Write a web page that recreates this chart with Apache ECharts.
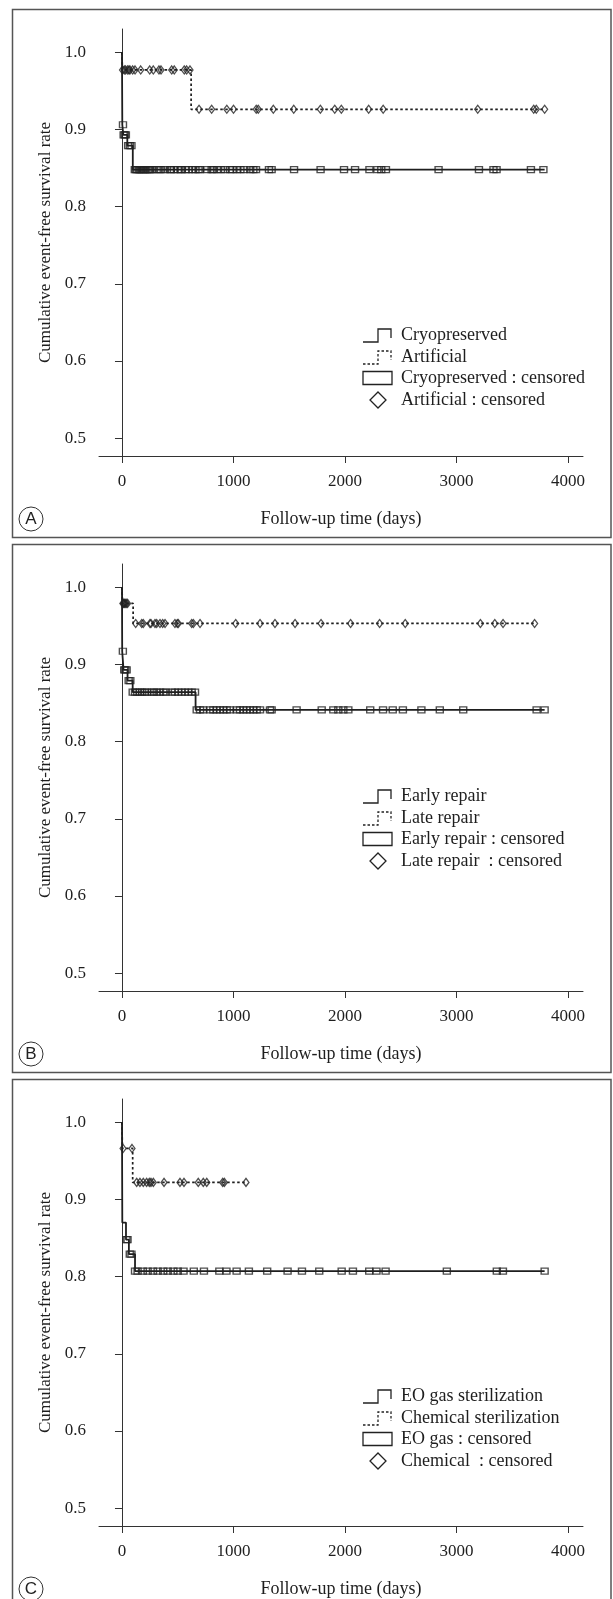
<!DOCTYPE html>
<html>
<head>
<meta charset="utf-8">
<script src="https://cdn.jsdelivr.net/npm/echarts@6/dist/echarts.min.js"></script>
<style>
  html, body { margin: 0; padding: 0; background: #fff; }
  #chart { width: 613px; height: 1599px; }
</style>
</head>
<body>
<div id="chart"></div>
<script>
// ---- data (days, survival) ----
var xTicks = [0, 1000, 2000, 3000, 4000]
var yTicks = [0.5, 0.6, 0.7, 0.8, 0.9, 1.0]

// Panel A
var aCryoSteps = [[0, 1.0], [3, 0.906], [12, 0.893], [48, 0.879], [97, 0.848], [3790, 0.848]]
var aArtiSteps = [[0, 1.0], [4, 0.977], [620, 0.926], [3790, 0.926]]
var aCryoCensored = [9, 15, 25, 35, 55, 70, 85, 115, 125, 135, 150, 160, 170, 185, 195, 205, 220, 235, 245, 256, 273,
  311, 336, 350, 386, 430, 438, 466, 501, 526, 535, 571, 599, 631, 659, 687, 700, 764, 804, 817, 852, 887, 924,
  969, 992, 1029, 1062, 1097, 1150, 1178, 1202, 1318, 1342, 1543, 1781, 1991, 2090, 2219, 2290, 2325, 2367,
  2839, 3201, 3331, 3359, 3667, 3779]
var aArtiCensored = [5, 21, 33, 51, 63, 72, 96, 117, 168, 249, 281, 332, 350, 446, 469, 559, 580, 610, 691, 804,
  940, 1000, 1204, 1222, 1357, 1540, 1779, 1908, 1967, 2212, 2342, 3190, 3692, 3715, 3790]

// Panel B
var bEarlySteps = [[0, 1.0], [2, 0.917], [14, 0.893], [50, 0.879], [96, 0.864], [660, 0.841], [3790, 0.841]]
var bLateSteps = [[0, 1.0], [5, 0.979], [100, 0.953], [3700, 0.953]]
var bEarlyCensored = [8, 20, 30, 42, 60, 75, 96, 117, 137, 161, 182, 206, 227, 266, 287, 311, 341, 371, 395, 446,
  475, 505, 535, 565, 595, 625, 655, 670, 700, 729, 789, 819, 849, 879, 909, 939, 969, 1029, 1058, 1088, 1118,
  1148, 1178, 1208, 1238, 1327, 1342, 1566, 1791, 1895, 1940, 1985, 2030, 2226, 2341, 2428, 2519, 2685, 2850,
  3060, 3718, 3790]
var bLateCensored = [8, 15, 22, 30, 40, 50, 123, 177, 191, 251, 260, 296, 311, 341, 365, 386, 475, 496, 505, 625,
  640, 700, 1020, 1238, 1372, 1552, 1785, 2050, 2310, 2540, 3214, 3343, 3417, 3700]

// Panel C
var cEoSteps = [[0, 1.0], [3, 0.87], [36, 0.848], [62, 0.829], [117, 0.807], [3790, 0.807]]
var cChemSteps = [[0, 1.0], [4, 0.966], [96, 0.922], [1112, 0.922]]
var cEoCensored = [40, 50, 70, 85, 117, 140, 187, 230, 278, 320, 370, 410, 461, 500, 552, 644, 735, 873, 937,
  1028, 1138, 1302, 1485, 1614, 1769, 1970, 2071, 2217, 2282, 2364, 2913, 3361, 3416, 3790]
var cChemCensored = [10, 90, 132, 161, 191, 221, 245, 260, 281, 377, 520, 556, 684, 729, 760, 903, 918, 1112]

// ---- layout ----
var panels = [
  { top: 9, letter: 'A', legendTop: 326,
    names: ['Cryopreserved', 'Artificial', 'Cryopreserved : censored', 'Artificial : censored'],
    solid: aCryoSteps, dashed: aArtiSteps, solidCens: aCryoCensored, dashedCens: aArtiCensored },
  { top: 544, letter: 'B', legendTop: 252,
    names: ['Early repair', 'Late repair', 'Early repair : censored', 'Late repair  : censored'],
    solid: bEarlySteps, dashed: bLateSteps, solidCens: bEarlyCensored, dashedCens: bLateCensored },
  { top: 1079, letter: 'C', legendTop: 317,
    names: ['EO gas sterilization', 'Chemical sterilization', 'EO gas : censored', 'Chemical  : censored'],
    solid: cEoSteps, dashed: cChemSteps, solidCens: cEoCensored, dashedCens: cChemCensored }
]

var ink = '#1e1e1e'
var serif = '"Liberation Serif", "DejaVu Serif", serif'

function survAt(steps, t) {
  var v = steps[0][1]
  for (var i = 0; i < steps.length; i++) {
    if (steps[i][0] <= t) v = steps[i][1]
  }
  return v
}

var chartDom = document.getElementById('chart')
var myChart = echarts.init(chartDom, null, { renderer: 'canvas' })

var grids = [], xAxes = [], yAxes = [], series = [], graphics = []

panels.forEach(function (p, i) {
  var gTop = p.top + 20
  grids.push({ left: 99, right: 30, top: gTop, height: 427 })
  xAxes.push({
    type: 'value', gridIndex: i, min: -206, max: 4134,
    name: 'Follow-up time (days)', nameLocation: 'middle', nameGap: 54,
    nameTextStyle: { fontFamily: serif, fontSize: 18, color: ink },
    axisLine: { lineStyle: { color: '#333', width: 1 } },
    axisTick: { length: 7, customValues: xTicks, lineStyle: { color: '#333' } },
    axisLabel: { customValues: xTicks, margin: 17, fontFamily: serif, fontSize: 17, color: ink,
      formatter: function (v) { return String(v) } },
    splitLine: { show: false }
  })
  yAxes.push({
    type: 'value', gridIndex: i, min: 0.477, max: 1.03,
    name: 'Cumulative event-free survival rate', nameLocation: 'middle', nameGap: 43,
    nameTextStyle: { fontFamily: serif, fontSize: 17, color: ink },
    axisLine: { show: true, lineStyle: { color: '#333', width: 1 } },
    axisTick: { show: true, length: 7, customValues: yTicks, lineStyle: { color: '#333' } },
    axisLabel: { customValues: yTicks, margin: 13, fontFamily: serif, fontSize: 17, color: ink,
      formatter: function (v) { return v.toFixed(1) } },
    splitLine: { show: false }
  })

  series.push({
    type: 'line', xAxisIndex: i, yAxisIndex: i, step: 'end', showSymbol: false,
    data: p.solid, lineStyle: { color: ink, width: 1.8 }, z: 3
  })
  series.push({
    type: 'line', xAxisIndex: i, yAxisIndex: i, step: 'end', showSymbol: false,
    data: p.dashed, lineStyle: { color: ink, width: 1.7, type: [2.5, 2.5] }, z: 3
  })
  series.push({
    type: 'scatter', xAxisIndex: i, yAxisIndex: i, symbol: 'rect', symbolSize: [7, 6],
    data: p.solidCens.map(function (t) { return [t, survAt(p.solid, t)] }),
    itemStyle: { color: 'rgba(255,255,255,0)', borderColor: '#222', borderWidth: 1.3 }, z: 4
  })
  series.push({
    type: 'scatter', xAxisIndex: i, yAxisIndex: i, symbol: 'diamond', symbolSize: [6, 8],
    data: p.dashedCens.map(function (t) { return [t, survAt(p.dashed, t)] }),
    itemStyle: { color: 'rgba(255,255,255,0)', borderColor: '#222', borderWidth: 1.3 }, z: 4
  })

  // frame
  graphics.push({
    type: 'rect', shape: { x: 12.5, y: p.top + 0.5, width: 598.5, height: 528 },
    style: { fill: 'none', stroke: '#555', lineWidth: 1.5 }, silent: true
  })
  // panel letter
  graphics.push({
    type: 'circle', shape: { cx: 31, cy: p.top + 510, r: 12 },
    style: { fill: 'none', stroke: '#333', lineWidth: 1 }
  })
  graphics.push({
    type: 'text', x: 31, y: p.top + 510,
    style: { text: p.letter, fill: '#222', font: '17px "Liberation Sans", Arial, sans-serif',
      align: 'center', verticalAlign: 'middle' }
  })

  // legend
  var ly = p.top + p.legendTop
  var rows = [ly, ly + 22, ly + 43, ly + 65]
  graphics.push({
    type: 'polyline', shape: { points: [[363, rows[0] + 7], [378, rows[0] + 7], [378, rows[0] - 6], [391, rows[0] - 6], [391, rows[0] + 3]] },
    style: { stroke: '#222', lineWidth: 1.3, fill: 'none' }
  })
  graphics.push({
    type: 'polyline', shape: { points: [[363, rows[1] + 7], [378, rows[1] + 7], [378, rows[1] - 6], [391, rows[1] - 6], [391, rows[1] + 3]] },
    style: { stroke: '#222', lineWidth: 1.3, fill: 'none', lineDash: [2.5, 2] }
  })
  graphics.push({
    type: 'rect', shape: { x: 363, y: rows[2] - 6.5, width: 29, height: 13 },
    style: { stroke: '#222', lineWidth: 1.3, fill: 'none' }
  })
  graphics.push({
    type: 'polygon', shape: { points: [[378, rows[3] - 8], [386, rows[3]], [378, rows[3] + 8], [370, rows[3]]] },
    style: { stroke: '#222', lineWidth: 1.3, fill: 'none' }
  })
  p.names.forEach(function (n, k) {
    graphics.push({
      type: 'text', x: 401, y: rows[k],
      style: { text: n, fill: ink, font: '18px ' + serif, verticalAlign: 'middle' }
    })
  })
})

var option = {
  animation: false,
  backgroundColor: '#fff',
  grid: grids,
  xAxis: xAxes,
  yAxis: yAxes,
  series: series,
  graphic: graphics
}
myChart.setOption(option)
window.addEventListener('resize', myChart.resize)
</script>
</body>
</html>
